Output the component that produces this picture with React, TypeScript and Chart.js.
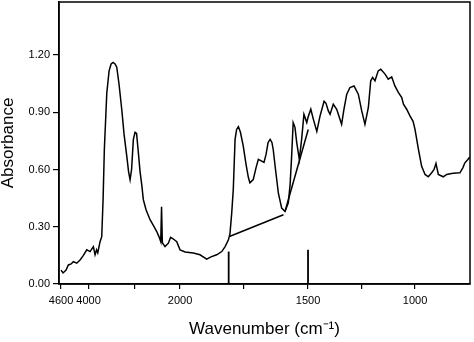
import React, { useEffect, useRef } from "react";
import { Chart, registerables } from "chart.js";

Chart.register(...registerables);

// Spectrum (wavenumber in cm-1, absorbance)
const WAVENUMBER = [
  4600, 4556, 4491, 4440, 4381, 4331, 4257, 4185, 4119, 4038, 3966, 3894, 3857, 3824, 3798, 3748, 3711,
  3682, 3654, 3601, 3551, 3507, 3464, 3420, 3383, 3333, 3274, 3223, 3164, 3125, 3092, 3059, 3020, 2983,
  2950, 2917, 2874, 2837, 2802, 2743, 2655, 2590, 2509, 2459, 2422, 2404, 2387, 2328, 2255, 2207, 2153,
  2072, 2000,
  1980, 1948, 1922, 1896, 1879, 1857, 1837, 1824, 1811, 1805, 1798, 1792, 1785, 1779, 1772, 1764, 1753,
  1742, 1733, 1727, 1714, 1703, 1694, 1681, 1672, 1664, 1656, 1648, 1641, 1636, 1627, 1616, 1603, 1590,
  1577, 1570, 1564, 1558, 1551, 1544, 1534, 1525, 1516, 1505, 1500,
  1487, 1475, 1459, 1444, 1425, 1416, 1405, 1397, 1382, 1366, 1343, 1332, 1319, 1304, 1285, 1265, 1249,
  1234, 1218, 1207, 1198, 1187, 1172, 1160, 1140, 1125, 1109, 1094, 1078, 1062, 1054, 1039, 1023, 1009,
  1000, 984, 969, 953, 938, 922, 911, 902, 891, 868, 852, 829, 809, 790, 776, 767, 753, 744,
];
const ABSORBANCE = [
  0.073, 0.058, 0.073, 0.1, 0.105, 0.117, 0.109, 0.126, 0.147, 0.179, 0.17, 0.196, 0.153, 0.179, 0.163, 0.222, 0.248,
  0.442, 0.705, 1.0, 1.116, 1.153, 1.161, 1.153, 1.136, 1.047, 0.916, 0.784, 0.67, 0.589, 0.547, 0.6, 0.758, 0.795,
  0.789, 0.705, 0.589, 0.521, 0.442, 0.389, 0.337, 0.31, 0.275, 0.247, 0.222, 0.405, 0.216, 0.196, 0.214, 0.245, 0.237,
  0.222, 0.179,
  0.168, 0.162, 0.153, 0.13, 0.142, 0.153, 0.17, 0.196, 0.232, 0.263, 0.374, 0.495, 0.758, 0.81, 0.825, 0.795, 0.723,
  0.626, 0.558, 0.53, 0.547, 0.61, 0.653, 0.644, 0.637, 0.679, 0.742, 0.758, 0.742, 0.705, 0.6, 0.477, 0.398, 0.38,
  0.425, 0.521, 0.67, 0.846, 0.821, 0.74, 0.653, 0.758, 0.889, 0.846, 0.874,
  0.916, 0.863, 0.8, 0.88, 0.958, 0.947, 0.907, 0.889, 0.942, 0.916, 0.837, 0.916, 0.995, 1.03, 1.038, 0.995, 0.907,
  0.837, 0.925, 1.065, 1.083, 1.065, 1.117, 1.126, 1.1, 1.074, 1.086, 1.038, 1.004, 0.977, 0.942, 0.916, 0.88, 0.853,
  0.81, 0.705, 0.617, 0.574, 0.562, 0.583, 0.6, 0.632, 0.574, 0.562, 0.574, 0.579, 0.582, 0.583, 0.61, 0.635, 0.653, 0.666,
];

// Baseline construction lines and marker lines
const BASELINE_A_WN = [1807, 1596];
const BASELINE_A_ABS = [0.249, 0.363];
const BASELINE_B_WN = [1590, 1499];
const BASELINE_B_ABS = [0.38, 0.81];
const MARKER_WN = [1810, 1500];
const MARKER_ABS = [0.17, 0.18];

// Axis ticks
const X_TICKS = [4600, 4000, 3000, 2000, 1750, 1500, 1250, 1000];
const X_TICK_LABELS = ["4600", "4000", "", "2000", "", "1500", "", "1000"];
const Y_TICKS = [0, 0.3, 0.6, 0.9, 1.2];
const Y_TICK_LABELS = ["0.00", "0.30", "0.60", "0.90", "1.20"];
const X_RANGE = [4645, 743];
const Y_RANGE = [0, 1.478];

// The instrument's wavenumber axis changes scale at these break points
const AXIS_BREAK_WN = [4600, 2000, 1500, 1000];
const AXIS_BREAK_UNITS = [0, 119, 247, 354];

function axisPos(wn: number): number {
  const n = AXIS_BREAK_WN.length;
  let i = 0;
  while (i < n - 2 && wn < AXIS_BREAK_WN[i + 1]) i++;
  const w0 = AXIS_BREAK_WN[i];
  const w1 = AXIS_BREAK_WN[i + 1];
  const p0 = AXIS_BREAK_UNITS[i];
  const p1 = AXIS_BREAK_UNITS[i + 1];
  return p0 + ((w0 - wn) * (p1 - p0)) / (w0 - w1);
}

const FONT = "'Liberation Sans', Arial, Helvetica, sans-serif";

const framePlugin = {
  id: "frame",
  afterDraw(chart: any) {
    const { ctx, chartArea } = chart;
    const { left, top, right, bottom } = chartArea;
    ctx.save();
    ctx.strokeStyle = "#000";
    ctx.lineWidth = 1.5;
    ctx.strokeRect(left, top, right - left, bottom - top);
    ctx.restore();
  },
};

export default function App() {
  const canvasRef = useRef<HTMLCanvasElement | null>(null);

  useEffect(() => {
    if (!canvasRef.current) return;
    const toPts = (w: number[], a: number[]) => w.map((wn, i) => ({ x: axisPos(wn), y: a[i] }));
    const lineStyle = {
      borderColor: "#000",
      borderWidth: 1.5,
      pointRadius: 0,
      tension: 0,
      fill: false,
    };
    const chart = new Chart(canvasRef.current, {
      type: "line",
      data: {
        datasets: [
          { label: "Spectrum", data: toPts(WAVENUMBER, ABSORBANCE), ...lineStyle },
          { label: "Baseline A", data: toPts(BASELINE_A_WN, BASELINE_A_ABS), ...lineStyle },
          { label: "Baseline B", data: toPts(BASELINE_B_WN, BASELINE_B_ABS), ...lineStyle },
          {
            label: "Marker 1",
            data: [
              { x: axisPos(MARKER_WN[0]), y: 0 },
              { x: axisPos(MARKER_WN[0]), y: MARKER_ABS[0] },
            ],
            ...lineStyle,
            borderWidth: 1.8,
          },
          {
            label: "Marker 2",
            data: [
              { x: axisPos(MARKER_WN[1]), y: 0 },
              { x: axisPos(MARKER_WN[1]), y: MARKER_ABS[1] },
            ],
            ...lineStyle,
            borderWidth: 1.8,
          },
        ],
      },
      options: {
        animation: false,
        responsive: true,
        maintainAspectRatio: false,
        layout: { padding: { left: 0, right: 4, top: 2, bottom: 0 } },
        plugins: { legend: { display: false }, tooltip: { enabled: false } },
        scales: {
          x: {
            type: "linear",
            min: axisPos(X_RANGE[0]),
            max: axisPos(X_RANGE[1]),
            afterBuildTicks: (s: any) => {
              s.ticks = X_TICKS.map((w) => ({ value: axisPos(w) }));
            },
            afterFit: (s: any) => {
              s.height = 58;
              s.paddingLeft = 0;
              s.paddingRight = 0;
            },
            ticks: {
              callback: (_v: any, i: number) => X_TICK_LABELS[i],
              color: "#000",
              font: { family: FONT, size: 11 },
              padding: 5,
              maxRotation: 0,
              autoSkip: false,
            },
            grid: { drawOnChartArea: false, tickLength: 5, color: "#000", lineWidth: 1.2 },
            border: { display: true, color: "#000", width: 1.5 },
            title: {
              display: true,
              text: "Wavenumber (cm⁻¹)",
              color: "#000",
              font: { family: FONT, size: 17, lineHeight: 1.2 },
              padding: { top: 0, bottom: 2 },
            },
          },
          y: {
            type: "linear",
            min: Y_RANGE[0],
            max: Y_RANGE[1],
            afterBuildTicks: (s: any) => {
              s.ticks = Y_TICKS.map((v) => ({ value: v }));
            },
            afterFit: (s: any) => {
              s.width = 59;
              s.paddingTop = 0;
              s.paddingBottom = 0;
            },
            ticks: {
              callback: (_v: any, i: number) => Y_TICK_LABELS[i],
              color: "#000",
              font: { family: FONT, size: 11 },
              padding: 3,
            },
            grid: { drawOnChartArea: false, tickLength: 6, color: "#000", lineWidth: 1.2 },
            border: { display: true, color: "#000", width: 1.5 },
            title: {
              display: true,
              text: "Absorbance",
              color: "#000",
              font: { family: FONT, size: 17, lineHeight: 1 },
              padding: 0,
            },
          },
        },
      },
      plugins: [framePlugin],
    } as any);
    return () => chart.destroy();
  }, []);

  return (
    <div style={{ position: "fixed", left: 0, top: 0, width: 474, height: 342, background: "#fff" }}>
      <canvas ref={canvasRef} />
    </div>
  );
}
